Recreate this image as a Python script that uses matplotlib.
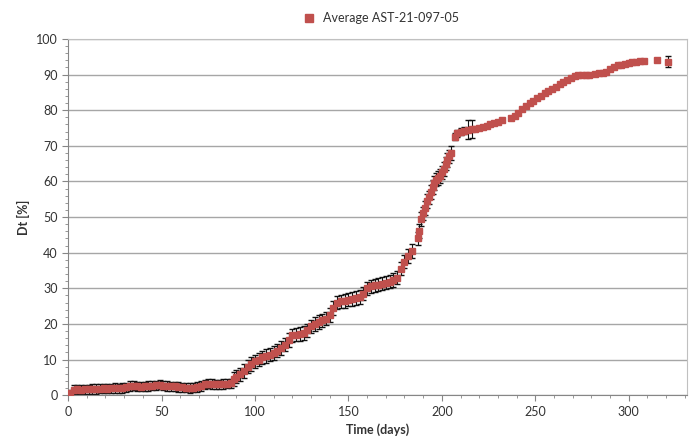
import numpy as np
import matplotlib.pyplot as plt
from matplotlib.ticker import MultipleLocator
from matplotlib.lines import Line2D

plt.rcParams['font.family'] = ['Lato', 'DejaVu Sans']

# values (time in days, Dt in %, error bar half-width)
days = [0, 1, 3, 5, 7, 9, 11, 13, 15, 17, 19, 21, 23, 25, 27, 29, 31, 33, 35, 37,
        39, 41, 43, 45, 47, 49, 51, 53, 55, 57, 59, 61, 63, 65, 67, 69, 71, 73, 75, 77,
        79, 81, 83, 85, 87, 89, 90, 92, 94, 96, 98, 100, 102, 104, 106, 108, 110, 112, 114, 116,
        118, 120, 122, 124, 126, 128, 130, 132, 134, 136, 138, 140, 142, 144, 146, 148, 150, 152, 154, 156,
        158, 160, 162, 164, 166, 168, 170, 172, 174, 176, 178, 180, 182, 184, 187, 188, 189, 190, 191, 192,
        193, 194, 195, 196, 197, 198, 199, 200, 201, 202, 203, 204, 205, 207, 208, 210, 212, 214, 216, 218,
        220, 222, 224, 226, 228, 230, 232, 237, 239, 241, 243, 245, 247, 249, 251, 253, 255, 257, 259, 261,
        263, 265, 267, 269, 271, 273, 275, 277, 279, 282, 284, 286, 288, 290, 292, 294, 296, 298, 300, 302,
        304, 306, 308, 315, 321]
dt = [0.3, 0.6, 1.5, 1.6, 1.5, 1.6, 1.6, 1.7, 1.7, 1.8, 1.9, 1.8, 1.9, 2.0, 1.9, 2.0, 2.2, 2.6, 2.7, 2.5,
      2.4, 2.5, 2.6, 2.7, 2.8, 2.9, 2.7, 2.6, 2.5, 2.5, 2.3, 2.2, 2.1, 2.0, 2.1, 2.3, 2.6, 3.0, 3.2, 3.1,
      3.0, 3.0, 3.1, 3.2, 3.3, 4.5, 5.2, 5.8, 6.8, 8.0, 8.8, 9.5, 10.0, 10.6, 11.0, 11.4, 11.8, 12.5, 13.3, 14.2,
      15.5, 16.8, 17.0, 17.2, 17.4, 18.2, 19.3, 20.0, 20.5, 21.0, 21.5, 22.5, 24.5, 26.0, 26.3, 26.5, 26.8, 27.0, 27.3, 27.6,
      28.5, 30.0, 30.5, 30.8, 31.0, 31.3, 31.6, 31.9, 32.3, 33.0, 35.5, 37.5, 39.0, 40.5, 44.0, 46.0, 49.5, 51.0, 52.5, 54.5,
      55.5, 57.0, 58.5, 59.5, 60.5, 61.0, 61.5, 62.5, 63.5, 65.0, 66.0, 67.0, 68.0, 72.5, 73.5, 74.0, 74.2, 74.5, 74.7, 74.8,
      75.0, 75.3, 75.6, 76.0, 76.3, 76.8, 77.2, 77.8, 78.3, 79.3, 80.3, 81.2, 82.0, 82.7, 83.4, 84.0, 84.7, 85.3, 86.0, 86.6,
      87.2, 87.8, 88.4, 89.0, 89.5, 89.8, 90.0, 89.9, 89.8, 90.1, 90.3, 90.5, 90.8, 91.5, 92.2, 92.6, 92.8, 93.0, 93.2, 93.4,
      93.5, 93.7, 93.9, 94.2, 93.6]
err = [0.8] * 2 + [1.3] * 43 + [1.9] * 68 + [1.0] * 4 + [2.6] * 2 + [0.4] * 45 + [1.5]

fig = plt.figure(figsize=(6.95, 4.47), dpi=100)
ax = fig.add_axes([0.098, 0.116, 0.890, 0.797])

ax.errorbar(days, dt, yerr=err, fmt='none', ecolor='#111111', elinewidth=0.8,
            capsize=2.2, capthick=1.0, zorder=2)
ax.plot(days, dt, 's', color='#C0504D', markersize=5, zorder=3)

ax.set_xlim(0, 331)
ax.set_ylim(0, 100)
ax.xaxis.set_major_locator(MultipleLocator(50))
ax.xaxis.set_minor_locator(MultipleLocator(10))
ax.yaxis.set_major_locator(MultipleLocator(10))
ax.yaxis.set_minor_locator(MultipleLocator(2))
ax.grid(axis='y', which='major', color='#a6a6a6', linewidth=1)
ax.set_axisbelow(True)

for side in ['top', 'right']:
    ax.spines[side].set_color('#c0c0c0')
for side in ['left', 'bottom']:
    ax.spines[side].set_color('#868686')
ax.tick_params(which='both', direction='out', colors='#868686', labelcolor='#333333', labelsize=9)
ax.tick_params(which='major', length=4)
ax.tick_params(which='minor', length=2)

ax.set_xlabel('Time (days)', fontsize=9, fontweight='bold', color='#333333')
ax.set_ylabel('Dt [%]', fontsize=9, fontweight='bold', color='#333333')

handle = Line2D([], [], marker='s', linestyle='none', color='#C0504D', markersize=6)
ax.legend([handle], ['Average AST-21-097-05'], loc='lower center', bbox_to_anchor=(0.5, 1.01),
          frameon=False, fontsize=9, handletextpad=0.1, labelcolor='#333333')

fig.savefig('out.png', dpi=100)
